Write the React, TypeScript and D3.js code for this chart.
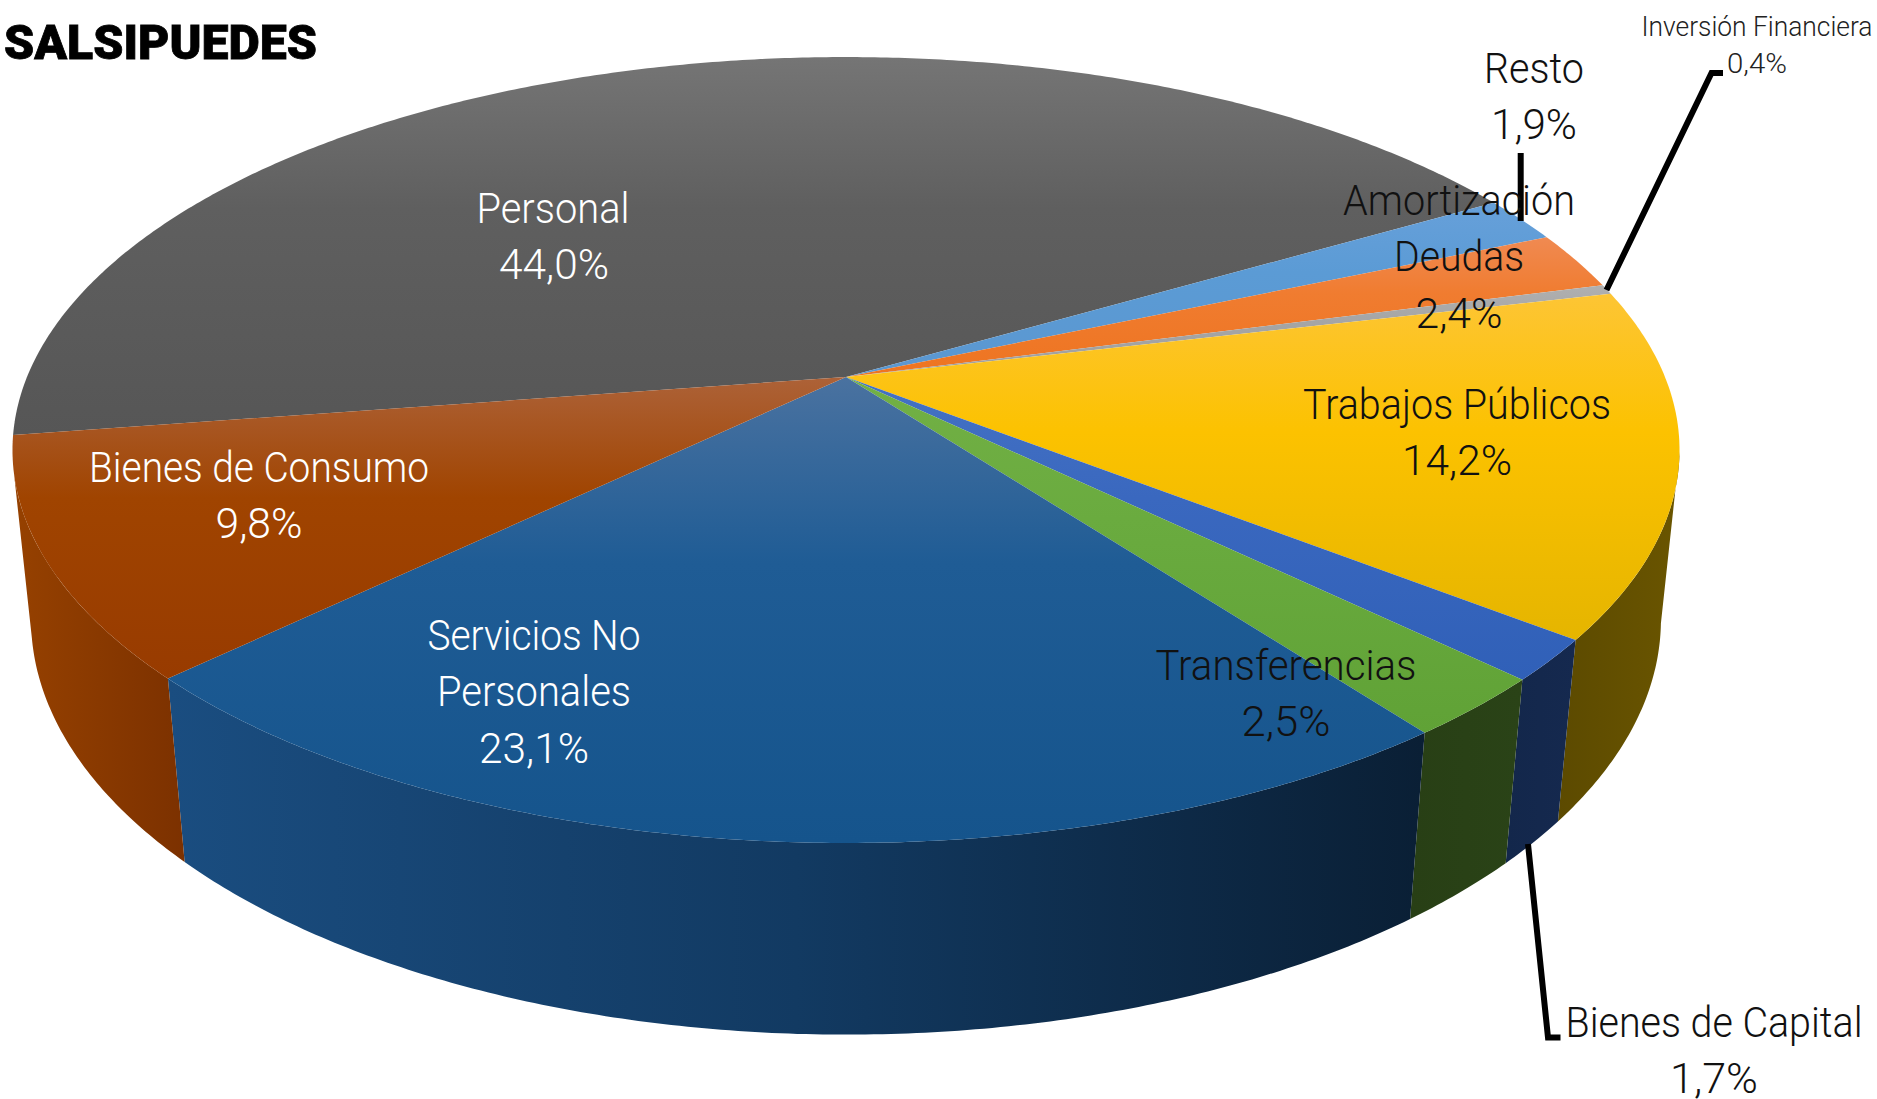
import React from "react";
import * as d3 from "d3";

// ---- data ----
const categories = ["Personal", "Resto", "Amortización Deudas", "Inversión Financiera", "Trabajos Públicos", "Bienes de Capital", "Transferencias", "Servicios No Personales", "Bienes de Consumo"];
const shares = [44.0, 1.9, 2.4, 0.4, 14.2, 1.7, 2.5, 23.1, 9.8];
const title = "SALSIPUEDES";

// ---- style ----
const topColors = [
  ["#757575", "#5f5f5f", "#565656"],
  ["#67a0da", "#5b9bd5", "#5b97d0"],
  ["#f08a52", "#f07c30", "#ee7420"],
  ["#b0b0b0", "#a5a5a5", "#a0a0a0"],
  ["#fdc535", "#fcc200", "#e5b500"],
  ["#4472c4", "#3a68bf", "#3060b8"],
  ["#72b045", "#6aab3f", "#60a236"],
  ["#4a72a0", "#1f5c95", "#15548c"],
  ["#ad6238", "#a04400", "#983b00"],
];
const sideColors = [
  ["#333", "#333"], ["#345", "#345"], ["#842", "#842"], ["#555", "#555"],
  ["#5c4a00", "#6a5500"],
  ["#13274b", "#15294f"],
  ["#283f15", "#2a4317"],
  ["#1a4d80", "#123a62", "#0a1f35"],
  ["#964100", "#7c3100"],
];

// layout: centre x, baseline y, text width, font size, colour, text
const labelLayout: [number, number, number, number, string, string][] = [
  [553, 223, 153, 42, "#fff", "Personal"],
  [554, 279, 110, 42, "#fff", "44,0%"],
  [259, 482, 340, 42, "#fff", "Bienes de Consumo"],
  [259, 538, 87, 42, "#fff", "9,8%"],
  [534, 650, 213, 42, "#fff", "Servicios No"],
  [534, 706, 194, 42, "#fff", "Personales"],
  [534, 763, 110, 42, "#fff", "23,1%"],
  [1286, 680, 261, 42, "#111", "Transferencias"],
  [1286, 736, 89, 42, "#111", "2,5%"],
  [1457, 419, 308, 42, "#111", "Trabajos Públicos"],
  [1457, 475, 110, 42, "#111", "14,2%"],
  [1459, 215, 232, 42, "#111", "Amortización"],
  [1459, 271, 130, 42, "#111", "Deudas"],
  [1459, 328, 87, 42, "#111", "2,4%"],
  [1534, 83, 100, 42, "#111", "Resto"],
  [1534, 139, 86, 42, "#111", "1,9%"],
  [1714, 1037, 297, 42, "#111", "Bienes de Capital"],
  [1714, 1093, 88, 42, "#111", "1,7%"],
  [1757, 36, 231, 27, "#222", "Inversión Financiera"],
  [1757, 73, 60, 27, "#222", "0,4%"],
];
const leaders = [
  { w: 6, pts: [[1520.7, 153], [1520.7, 221]] },
  { w: 6, pts: [[1606.5, 290], [1711.5, 73], [1723, 73]] },
  { w: 6, pts: [[1528, 844], [1548, 1037.5], [1560.5, 1037.5]] },
];

// perspective model of the disc, fitted to the picture
const cx = 846, cy = 377, a = 819, b = 379.4, p = 0.1858, q = 0.022, c = 170.5;
const project = (theta: number, z: number): [number, number] => {
  const u = Math.cos(theta), v = Math.sin(theta);
  const w = 1 - p * v + q * z;
  return [cx + (a * u) / w, cy + (b * v + c * z) / w];
};
const deg = Math.PI / 180;
const startDeg = 261.45;
const arcs = d3.pie<number>().sort(null).startAngle(startDeg * deg).endAngle((startDeg + 360) * deg)(shares);
const frontFrom = 11 * deg, frontTo = 167 * deg;
const line = d3.line();
const sample = (t0: number, t1: number, z: number) => {
  const n = Math.max(2, Math.ceil(Math.abs(t1 - t0) / (0.5 * deg)));
  return d3.range(n + 1).map((i) => project(t0 + ((t1 - t0) * i) / n, z));
};

export default function App() {
  const slices = arcs.map((d, i) => {
    const t0 = d.startAngle - Math.PI / 2;
    const t1 = d.endAngle - Math.PI / 2;
    const top = line([[cx, cy], ...sample(t0, t1, 0)])! + "Z";
    let side: string | null = null;
    // normalise rim range so it can be clamped to the camera-facing part
    const norm = (t: number) => { let x = t; while (x > Math.PI * 1.5) x -= 2 * Math.PI; while (x < -Math.PI / 2) x += 2 * Math.PI; return x; };
    let s0 = norm(t0), s1 = s0 + (t1 - t0);
    s0 = Math.max(s0, frontFrom); s1 = Math.min(s1, frontTo);
    if (s1 > s0) side = line([...sample(s0, s1, 0), ...sample(s1, s0, 1)])! + "Z";
    return { i, top, side };
  });
  return (
    <svg width={1877} height={1099} viewBox="0 0 1877 1099" style={{ position: "fixed", left: 0, top: 0, background: "#fff", fontFamily: "Roboto" }}>
      <defs>
        {slices.map(({ i }) => (
          <linearGradient key={i} id={`top${i}`} x1="0" y1="0" x2="0" y2="1">
            <stop offset="0" stopColor={topColors[i][0]} />
            <stop offset="0.4" stopColor={topColors[i][1]} />
            <stop offset="1" stopColor={topColors[i][2]} />
          </linearGradient>
        ))}
        {slices.map(({ i }) => (
          <linearGradient key={i} id={`side${i}`} x1="0" y1="0" x2="1" y2="0">
            {sideColors[i].map((col, k) => (
              <stop key={k} offset={k / (sideColors[i].length - 1)} stopColor={col} />
            ))}
          </linearGradient>
        ))}
      </defs>
      <text x={160.5} y={59} textAnchor="middle" fontSize={49} fontWeight={900} stroke="#000" strokeWidth={0.8} textLength={313} lengthAdjust="spacingAndGlyphs" fill="#000">{title}</text>
      {slices.map((s) => s.side && <path key={s.i} d={s.side} fill={`url(#side${s.i})`} />)}
      {slices.map((s) => <path key={s.i} d={s.top} fill={`url(#top${s.i})`} />)}
      {leaders.map((l, i) => (
        <path key={i} d={line(l.pts as [number, number][])!} fill="none" stroke="#000" strokeWidth={l.w} />
      ))}
      {labelLayout.map(([x, y, w, fs, col, t], i) => (
        <text key={i} x={x} y={y} textAnchor="middle" fontSize={fs} fontWeight={300} fill={col} textLength={w} lengthAdjust="spacingAndGlyphs">{t}</text>
      ))}
    </svg>
  );
}
